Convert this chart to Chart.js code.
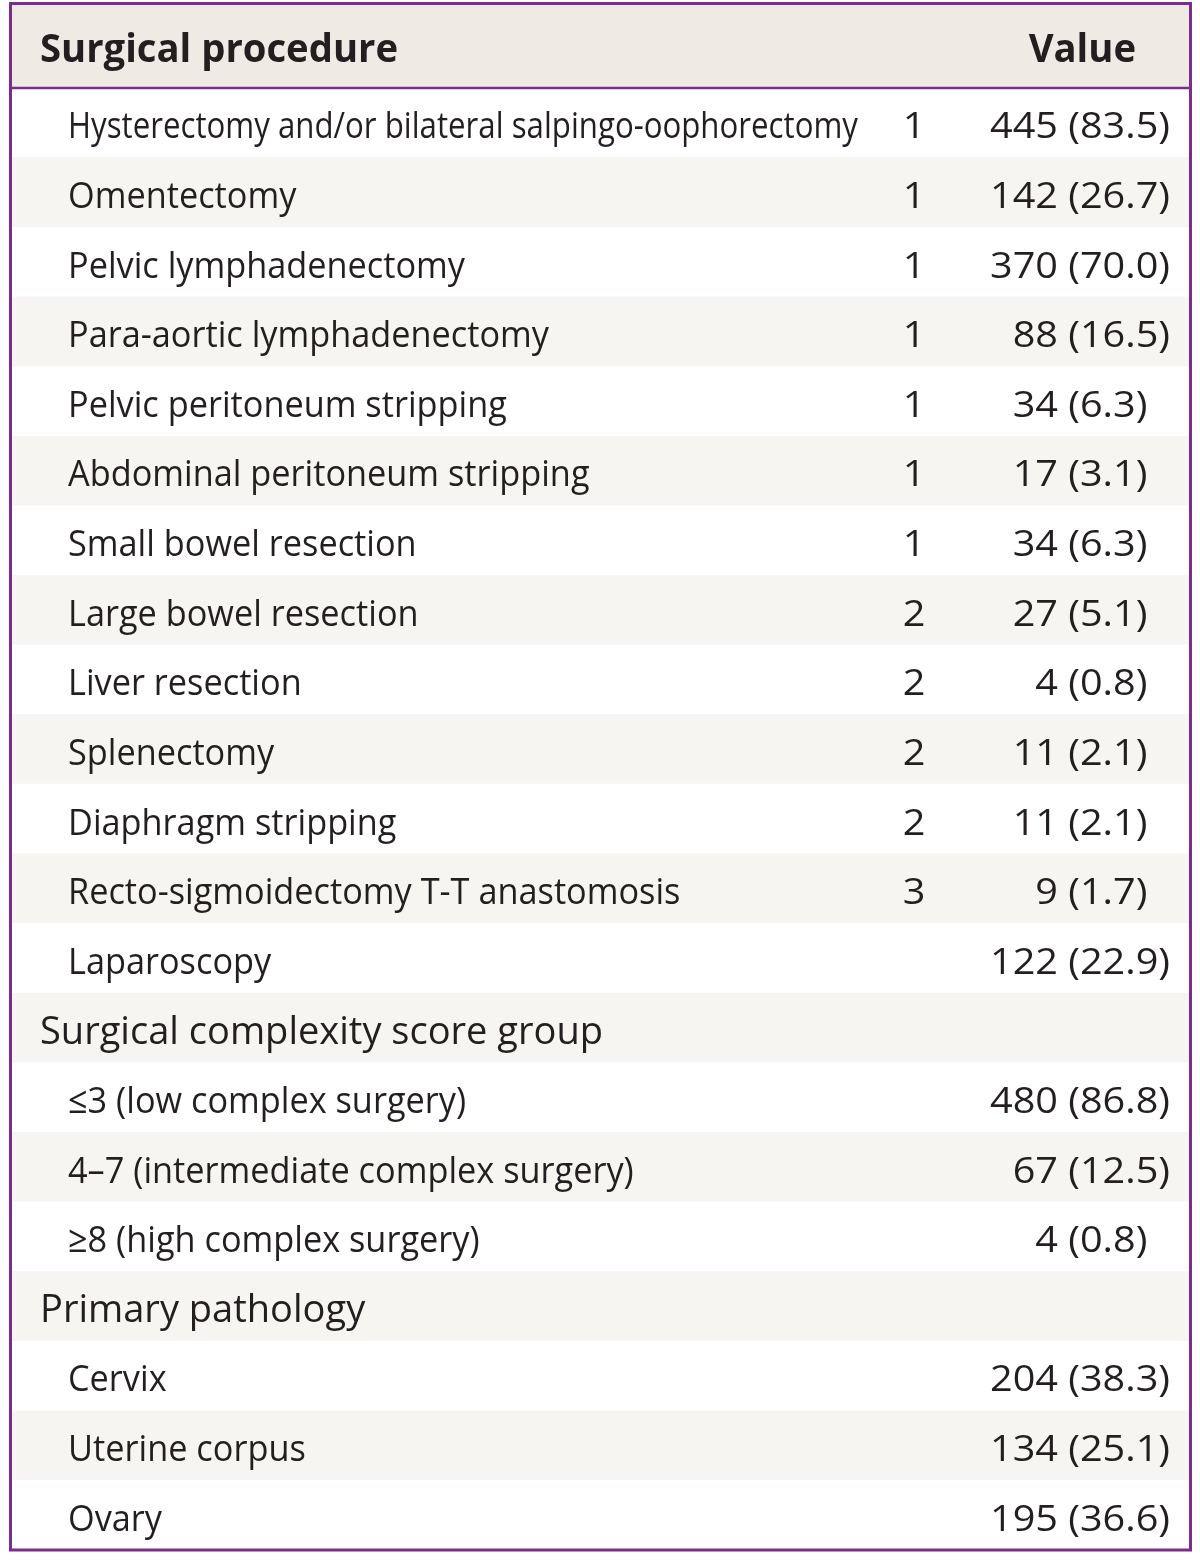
<!DOCTYPE html>
<html>
<head>
<meta charset="utf-8">
<script src="https://cdn.jsdelivr.net/npm/chart.js@4.4.1/dist/chart.umd.min.js"></script>
<style>
  html, body { margin: 0; padding: 0; background: #fff; }
  canvas { display: block; }
</style>
</head>
<body>
<canvas id="tableChart" width="1200" height="1561"></canvas>
<script>
// table content
const headers = ['Surgical procedure', 'Value'];

const rowLabels = [
  'Hysterectomy and/or bilateral salpingo-oophorectomy',
  'Omentectomy',
  'Pelvic lymphadenectomy',
  'Para-aortic lymphadenectomy',
  'Pelvic peritoneum stripping',
  'Abdominal peritoneum stripping',
  'Small bowel resection',
  'Large bowel resection',
  'Liver resection',
  'Splenectomy',
  'Diaphragm stripping',
  'Recto-sigmoidectomy T-T anastomosis',
  'Laparoscopy',
  'Surgical complexity score group',
  '≤3 (low complex surgery)',
  '4–7 (intermediate complex surgery)',
  '≥8 (high complex surgery)',
  'Primary pathology',
  'Cervix',
  'Uterine corpus',
  'Ovary'
];

const rowScores = ['1', '1', '1', '1', '1', '1', '1', '2', '2', '2', '2', '3', '', '', '', '', '', '', '', '', ''];

const rowValues = [
  '445 (83.5)', '142 (26.7)', '370 (70.0)', '88 (16.5)', '34 (6.3)', '17 (3.1)',
  '34 (6.3)', '27 (5.1)', '4 (0.8)', '11 (2.1)', '11 (2.1)', '9 (1.7)', '122 (22.9)',
  '', '480 (86.8)', '67 (12.5)', '4 (0.8)', '', '204 (38.3)', '134 (25.1)', '195 (36.6)'
];

const groupRows = [13, 17];

const PURPLE = '#7b2c8c';
const HEAD_BG = '#efebe4';
const STRIPE = '#f6f5f1';
const TEXT = '#231f20';
const FONT = '"Open Sans", "Noto Sans", sans-serif';

function drawText(ctx, text, x, y, align, sx) {
  ctx.save();
  ctx.translate(x, y);
  ctx.scale(sx, 1);
  ctx.textAlign = align;
  ctx.fillText(text, 0, 0);
  ctx.restore();
}

const tablePlugin = {
  id: 'tablePlugin',
  beforeDraw(chart) {
    const ctx = chart.ctx;
    const area = chart.chartArea;
    ctx.save();
    ctx.fillStyle = '#fff';
    ctx.fillRect(0, 0, chart.width, chart.height);
    ctx.fillStyle = HEAD_BG;
    ctx.fillRect(area.left, 4, area.right - area.left, area.top - 4);
    ctx.restore();
  },
  afterDatasetsDraw(chart) {
    const ctx = chart.ctx;
    const y = chart.scales.y;
    ctx.save();
    ctx.fillStyle = TEXT;
    ctx.textBaseline = 'alphabetic';

    // header
    ctx.font = 'bold 40px ' + FONT;
    const sxHead = 358 / ctx.measureText(headers[0]).width;
    drawText(ctx, headers[0], 40, 62, 'left', sxHead);
    drawText(ctx, headers[1], 1136, 62, 'right', sxHead);

    // group rows
    ctx.font = '39px ' + FONT;
    const sxGroup = 563 / ctx.measureText(rowLabels[13]).width;
    groupRows.forEach(i => {
      drawText(ctx, rowLabels[i], 40, y.getPixelForValue(i) + 16, 'left', sxGroup);
    });

    // item rows
    ctx.font = '37px ' + FONT;
    const sxLabel = 397 / ctx.measureText('Pelvic lymphadenectomy').width;
    const sxValue = 180 / ctx.measureText(rowValues[0]).width;
    const parenX = 1170 - ctx.measureText('(83.5)').width * sxValue;

    rowLabels.forEach((label, i) => {
      if (groupRows.includes(i)) return;
      const base = y.getPixelForValue(i) + 15.5;
      const sx = Math.min(sxLabel, 790 / ctx.measureText(label).width);
      drawText(ctx, label, 68, base, 'left', sx);
      if (rowScores[i]) drawText(ctx, rowScores[i], 914, base, 'center', sxValue);
      const v = rowValues[i];
      if (v) {
        const cut = v.indexOf('(');
        drawText(ctx, v.slice(0, cut), parenX, base, 'right', sxValue);
        drawText(ctx, v.slice(cut), parenX, base, 'left', sxValue);
      }
    });
    ctx.restore();
  },
  afterDraw(chart) {
    const ctx = chart.ctx;
    const area = chart.chartArea;
    ctx.save();
    ctx.strokeStyle = PURPLE;
    ctx.lineWidth = 2.5;
    ctx.beginPath();
    ctx.moveTo(area.left, area.top);
    ctx.lineTo(area.right, area.top);
    ctx.stroke();
    ctx.lineWidth = 3;
    ctx.strokeRect(area.left - 0.5, 3.5, area.right - area.left + 1, area.bottom - 3.5);
    ctx.restore();
  }
};

new Chart(document.getElementById('tableChart'), {
  type: 'bar',
  data: {
    labels: rowLabels,
    datasets: [{
      data: rowLabels.map(() => [0, 1]),
      backgroundColor: rowLabels.map((_, i) => i % 2 === 0 ? '#ffffff' : STRIPE),
      borderWidth: 0,
      barPercentage: 1,
      categoryPercentage: 1
    }]
  },
  options: {
    indexAxis: 'y',
    responsive: false,
    animation: false,
    devicePixelRatio: 1,
    layout: { padding: { left: 11, right: 10, top: 88, bottom: 11 } },
    plugins: { legend: { display: false }, tooltip: { enabled: false } },
    scales: {
      x: { display: false, min: 0, max: 1 },
      y: { display: false }
    }
  },
  plugins: [tablePlugin]
});
</script>
</body>
</html>
